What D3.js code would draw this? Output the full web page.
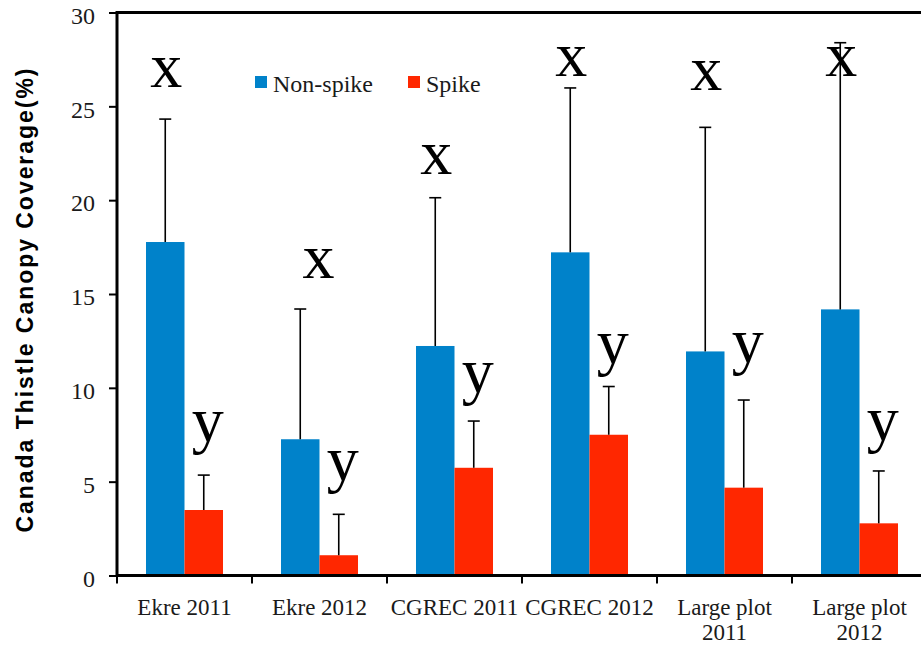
<!DOCTYPE html>
<html>
<head>
<meta charset="utf-8">
<script src="https://cdn.jsdelivr.net/npm/d3@7"></script>
<style>
  html, body { margin: 0; padding: 0; background: #fff; }
  svg { display: block; }
  .serif { font-family: "Liberation Serif", "Times New Roman", Times, serif; }
  .sansb { font-family: "Liberation Sans", Arial, Helvetica, sans-serif; font-weight: bold; }
</style>
</head>
<body>
<svg id="chart" width="921" height="646"></svg>
<script>
// Canada thistle canopy coverage by site/year, non-spike vs spike plots
const categories = ["Ekre 2011", "Ekre 2012", "CGREC 2011", "CGREC 2012", "Large plot\n2011", "Large plot\n2012"];
const seriesNames = ["Non-spike", "Spike"];
const nonSpike = [17.77, 7.26, 12.23, 17.22, 11.94, 14.18];
const nonSpikeErr = [6.55, 6.94, 7.90, 8.76, 11.94, 14.21];
const spike = [3.49, 1.08, 5.74, 7.50, 4.68, 2.78];
const spikeErr = [1.86, 2.18, 2.49, 2.57, 4.67, 2.79];
// significance letters and the value at which each letter sits
const nonSpikeLetters = ["x", "x", "x", "x", "x", "x"];
const nonSpikeLetterAt = [26.03, 15.85, 21.39, 26.61, 25.87, 26.61];
const spikeLetters = ["y", "y", "y", "y", "y", "y"];
const spikeLetterAt = [7.15, 5.07, 9.78, 11.34, 11.37, 7.20];
const yTicks = [0, 5, 10, 15, 20, 25, 30];
const yTitle = "Canada Thistle Canopy Coverage(%)";

const colors = { "Non-spike": "#0082CA", "Spike": "#FF2700" };

const svg = d3.select("#chart");
const plotLeft = 117, plotTop = 12.5, plotBottom = 575.5, plotRight = 927;

const y = d3.scaleLinear().domain([0, 30]).range([plotBottom, plotTop]);
const x0 = d3.scaleBand().domain(categories).range([plotLeft, plotRight]).paddingInner(0).paddingOuter(0);
const x1 = d3.scaleBand().domain(seriesNames).range([0, x0.bandwidth()]).paddingInner(0).paddingOuter(0.753);

const rows = categories.map((c, i) => ({
  cat: c,
  vals: [
    { s: "Non-spike", v: nonSpike[i], e: nonSpikeErr[i], letter: nonSpikeLetters[i], at: nonSpikeLetterAt[i] },
    { s: "Spike", v: spike[i], e: spikeErr[i], letter: spikeLetters[i], at: spikeLetterAt[i] }
  ]
}));

const groups = svg.append("g").selectAll("g").data(rows).join("g")
  .attr("transform", d => `translate(${x0(d.cat)},0)`);

// bars
groups.selectAll("rect").data(d => d.vals).join("rect")
  .attr("x", d => x1(d.s))
  .attr("width", x1.bandwidth())
  .attr("y", d => y(d.v))
  .attr("height", d => y(0) - y(d.v))
  .attr("fill", d => colors[d.s]);

// upper error bars
const cap = 6;
const eb = groups.selectAll("g.err").data(d => d.vals).join("g").attr("class", "err")
  .attr("stroke", "#000").attr("stroke-width", 1.6);
eb.append("line")
  .attr("x1", d => x1(d.s) + x1.bandwidth() / 2)
  .attr("x2", d => x1(d.s) + x1.bandwidth() / 2)
  .attr("y1", d => y(d.v))
  .attr("y2", d => y(d.v + d.e));
eb.append("line")
  .attr("x1", d => x1(d.s) + x1.bandwidth() / 2 - cap)
  .attr("x2", d => x1(d.s) + x1.bandwidth() / 2 + cap)
  .attr("y1", d => y(d.v + d.e))
  .attr("y2", d => y(d.v + d.e));

// significance letters
groups.each(function (d, i) {
  const g = d3.select(this);
  d.vals.forEach((v, j) => {
    let cx;
    if (j === 0) {
      cx = (i === 1) ? x0.bandwidth() / 2 - 1 : x1(v.s) + x1.bandwidth() / 2 + 1;
    } else {
      cx = x1(v.s) + x1.bandwidth() / 2 + 4;
    }
    g.append("text")
      .attr("class", "serif")
      .attr("x", cx)
      .attr("y", y(v.at))
      .attr("text-anchor", "middle")
      .style("font-size", "64px")
      .attr("fill", "#000")
      .text(v.letter);
  });
});

// y axis
const yAxis = svg.append("g").attr("transform", `translate(${plotLeft},0)`)
  .call(d3.axisLeft(y).tickValues(yTicks).tickSize(8).tickPadding(14).tickFormat(d3.format("d")));
yAxis.attr("font-family", null).attr("font-size", null);
yAxis.select(".domain").remove();
yAxis.selectAll(".tick line").attr("stroke", "#000").attr("stroke-width", 2);
yAxis.selectAll(".tick text")
  .attr("class", "serif")
  .style("font-size", "24px").attr("fill", "#1a1a1a")
  .attr("dy", "0.45em");

// x axis
const xAxis = svg.append("g").attr("transform", `translate(0,${plotBottom})`)
  .call(d3.axisBottom(x0).tickSize(0).tickFormat(""));
xAxis.attr("font-family", null).attr("font-size", null);
xAxis.select(".domain").remove();
const boundaries = categories.map(c => x0(c)).concat([x0(categories[categories.length - 1]) + x0.bandwidth()]);
svg.append("g").selectAll("line").data(boundaries).join("line")
  .attr("x1", d => d).attr("x2", d => d)
  .attr("y1", plotBottom).attr("y2", plotBottom + 8)
  .attr("stroke", "#000").attr("stroke-width", 2);
xAxis.selectAll(".tick").each(function (d) {
  const t = d3.select(this).append("text")
    .attr("class", "serif")
    .attr("text-anchor", "middle")
    .style("font-size", "23px").attr("fill", "#1a1a1a");
  d.split("\n").forEach((line, k) => {
    t.append("tspan").attr("x", 0).attr("y", 39.5 + k * 25).text(line);
  });
});

// frame lines: left axis, baseline, top
svg.append("line").attr("x1", plotLeft).attr("x2", plotLeft).attr("y1", plotTop - 1.5).attr("y2", plotBottom + 1.5)
  .attr("stroke", "#000").attr("stroke-width", 3);
svg.append("line").attr("x1", plotLeft).attr("x2", 921).attr("y1", plotBottom).attr("y2", plotBottom)
  .attr("stroke", "#000").attr("stroke-width", 3);
svg.append("line").attr("x1", plotLeft).attr("x2", 921).attr("y1", plotTop).attr("y2", plotTop)
  .attr("stroke", "#000").attr("stroke-width", 3);

// y axis title
svg.append("text")
  .attr("class", "sansb")
  .attr("transform", `translate(33,${(68 + 533) / 2}) rotate(-90)`)
  .attr("text-anchor", "middle")
  .style("font-size", "23px")
  .attr("fill", "#000")
  .attr("textLength", 464)
  .attr("lengthAdjust", "spacing")
  .text(yTitle);

// legend
const legend = svg.append("g");
const legendX = [255, 408];
seriesNames.forEach((s, i) => {
  legend.append("rect").attr("x", legendX[i]).attr("y", 76).attr("width", 12).attr("height", 12).attr("fill", colors[s]);
  legend.append("text").attr("class", "serif").attr("x", legendX[i] + 18).attr("y", 92)
    .style("font-size", "24px").attr("fill", "#1a1a1a").text(s);
});
</script>
</body>
</html>
